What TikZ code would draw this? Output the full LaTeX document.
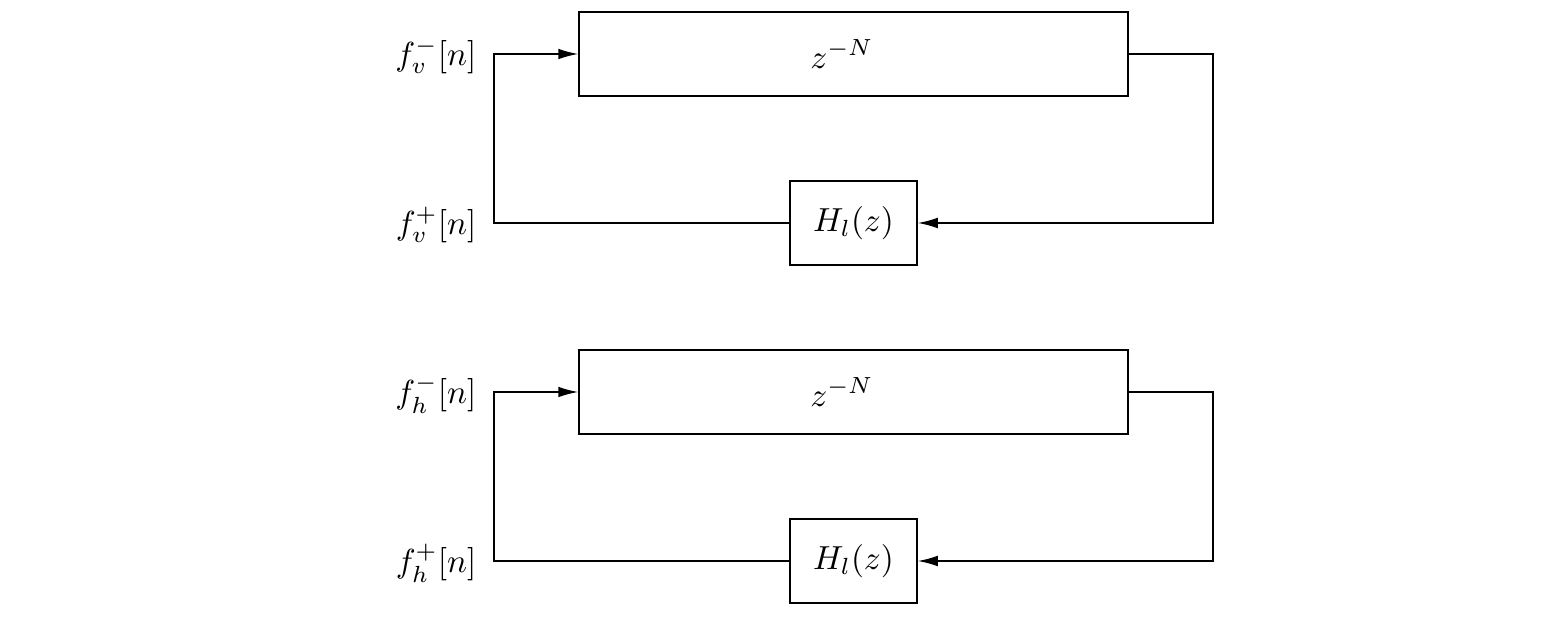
\documentclass[tikz,border=0pt]{standalone}
\usetikzlibrary{arrows.meta}
\begin{document}
\begin{tikzpicture}[x=0.3pt,y=-0.3pt,
  box/.style={draw,line width=0.45pt,minimum height=25.2pt,inner sep=0pt},
  arr/.style={line width=0.45pt,-{Latex[length=6pt,width=3.2pt]}},
  lbl/.style={anchor=east,inner sep=0pt}]
\useasboundingbox (0,0) rectangle (1564,641);
\foreach \k/\s/\o in {a/v/0,b/h/338}{
  \node[box,minimum width=164.7pt] (z\k) at (853.5,54+\o) {$z^{-N}$\kern7pt\relax};
  \node[box,minimum width=38.1pt] (h\k) at (853.5,223+\o) {$H_l(z)$};
  \node[lbl] (m\k) at (477,56+\o) {$f_\s^-[n]$};
  \node[lbl] (p\k) at (477,225+\o) {$f_\s^+[n]$};
  \coordinate (lt\k) at (494,54+\o);
  \coordinate (lb\k) at (494,223+\o);
  \coordinate (rt\k) at (1213,54+\o);
  \coordinate (rb\k) at (1213,223+\o);
  \draw[arr] (h\k.west) -- (lb\k) -- (lt\k) -- (z\k.west);
  \draw[arr] (z\k.east) -- (rt\k) -- (rb\k) -- (h\k.east);
}
\end{tikzpicture}
\end{document}
